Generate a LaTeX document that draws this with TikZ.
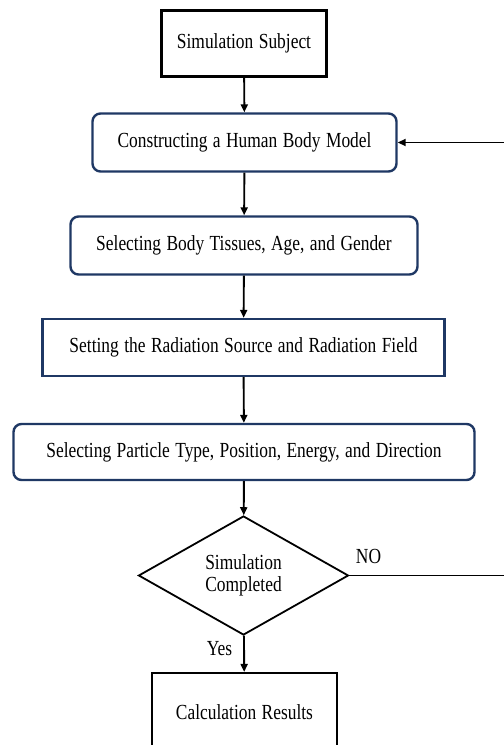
\documentclass[tikz,border=0pt]{standalone}
\usepackage{fontspec}
\setmainfont[FakeStretch=0.81,WordSpace=1.25]{Liberation Serif}
\usetikzlibrary{shapes.geometric,arrows.meta}
\definecolor{navy}{RGB}{31,56,100}
\begin{document}
\begin{tikzpicture}[x=1bp,y=-1bp,
  every node/.style={font=\fontsize{21.5bp}{22bp}\selectfont},
  plainbox/.style={draw=black,line width=2.2bp,inner sep=0pt},
  roundbox/.style={draw=navy,line width=2.4bp,rounded corners=8bp,inner sep=0pt},
  squarebox/.style={draw=navy,line width=2.4bp,inner sep=0pt},
  decision/.style={draw=black,line width=1.8bp,shape=diamond,inner sep=0pt,align=center},
  flow/.style={draw=black,line width=1.9bp,-{Triangle[length=8bp,width=7bp]}},
  lbl/.style={inner sep=0pt}]
\useasboundingbox (0,0) rectangle (504,745);
\fill[white] (0,0) rectangle (504,745);
\node[plainbox,minimum width=165bp,minimum height=66bp] (s1) at (244,43.5) {Simulation Subject};
\node[roundbox,minimum width=304bp,minimum height=58bp] (s2) at (244.5,142.5) {Constructing a Human Body Model};
\node[roundbox,minimum width=347bp,minimum height=58bp] (s3) at (244,245.5) {Selecting Body Tissues, Age, and Gender};
\node[squarebox,minimum width=402bp,minimum height=57bp] (s4) at (243.5,347.5) {Setting the Radiation Source and Radiation Field};
\node[roundbox,minimum width=461bp,minimum height=56bp] (s5) at (244,452) {Selecting Particle Type, Position, Energy, and Direction};
\node[decision,minimum width=210bp,minimum height=119bp] (d) at (243.5,575.5) {Simulation\\Completed};
\node[plainbox,minimum width=185bp,minimum height=78bp] (s6) at (244.5,712) {Calculation Results};
\coordinate (back) at (512,575.5);
\draw[flow] (s1) -- (s2);
\draw[flow] (s2) -- (s3);
\draw[flow] (s3) -- (s4);
\draw[flow] (s4) -- (s5);
\draw[flow] (s5) -- (d);
\draw[flow] (d) -- (s6);
\draw[flow] (d.east) -- (back) |- (s2.east);
\node[lbl] (no) at (368.5,556.5) {NO};
\node[lbl] (yes) at (219.5,649) {Yes};
\end{tikzpicture}
\end{document}
